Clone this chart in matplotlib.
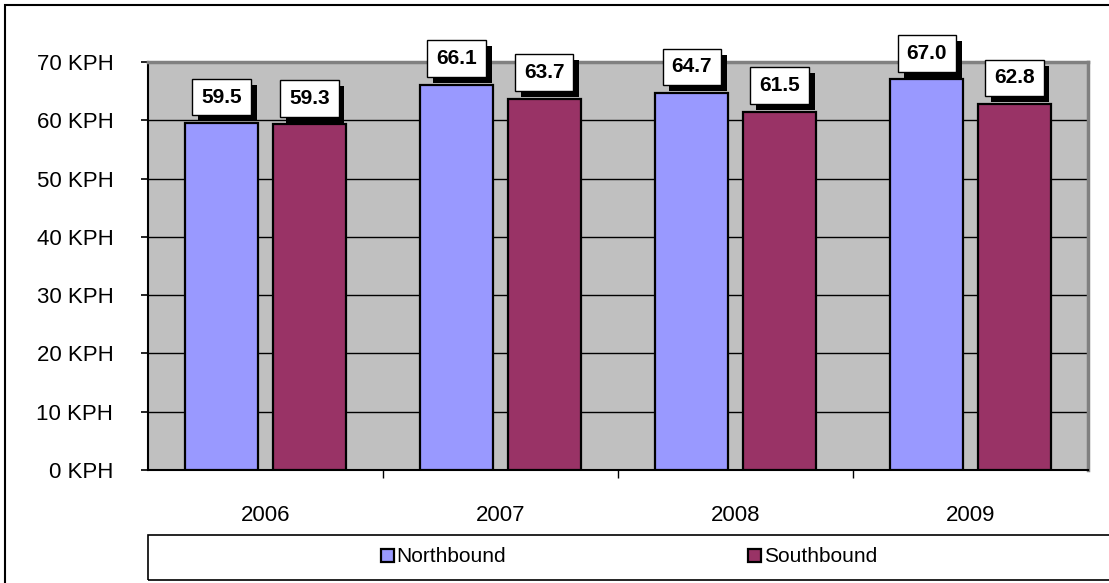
import matplotlib.pyplot as plt
import matplotlib.patheffects as pe
from matplotlib.patches import Rectangle
import numpy as np

plt.rcParams['font.family'] = ['Liberation Sans', 'DejaVu Sans']

years = ['2006', '2007', '2008', '2009']
northbound = [59.5, 66.1, 64.7, 67.0]
southbound = [59.3, 63.7, 61.5, 62.8]
yticks = [0, 10, 20, 30, 40, 50, 60, 70]

W, H = 1109, 583
fig = plt.figure(figsize=(W / 100, H / 100), dpi=100)
ax = fig.add_axes([148 / W, 1 - 470 / H, 940 / W, 408 / H])
ax.set_facecolor('#C0C0C0')

x = np.arange(len(years))
bw = 0.31
off = 0.187
b1 = ax.bar(x - off, northbound, bw, color='#9999FF', edgecolor='black', linewidth=1.6, zorder=3, label='Northbound')
b2 = ax.bar(x + off, southbound, bw, color='#993366', edgecolor='black', linewidth=1.6, zorder=3, label='Southbound')

# value labels in white boxes with a black drop shadow
shadow = [pe.withSimplePatchShadow(offset=(4.3, -4.3), shadow_rgbFace='black', alpha=1)]
for xs, vals in [(x - off, northbound), (x + off, southbound)]:
    for xi, v in zip(xs, vals):
        t = ax.annotate(f'{v:.1f}', (xi, v), xytext=(0, 26), textcoords='offset pixels',
                        ha='center', va='center', fontsize=15, fontweight='bold', color='black',
                        bbox=dict(boxstyle='square,pad=0.42', fc='white', ec='black', lw=1), zorder=5)
        t.get_bbox_patch().set_path_effects(shadow)

ax.set_ylim(0, 70)
ax.set_xlim(-0.5, 3.5)
ax.set_yticks(yticks)
ax.set_yticklabels([f'{t} KPH' for t in yticks])
ax.yaxis.grid(True, color='black', linewidth=1, zorder=1)
ax.set_axisbelow(True)
ax.tick_params(axis='y', direction='out', length=5, width=1.2, pad=20, labelsize=16)

ax.set_xticks(x)
ax.set_xticklabels(years)
ax.tick_params(axis='x', which='major', length=0, pad=25, labelsize=16)
ax.set_xticks([0.5, 1.5, 2.5], minor=True)
ax.tick_params(axis='x', which='minor', direction='out', length=6, width=1)

ax.spines['left'].set_color('black')
ax.spines['left'].set_linewidth(1.5)
ax.spines['bottom'].set_color('black')
ax.spines['bottom'].set_linewidth(1.5)
for s in ['top', 'right']:
    ax.spines[s].set_color('#808080')
    ax.spines[s].set_linewidth(2.5)

# outer frame and legend frame
fig.add_artist(Rectangle((5 / W, -0.1), 1.2, 1.1 - 5 / H, transform=fig.transFigure,
                         fill=False, ec='black', lw=1.5))
fig.add_artist(Rectangle((148 / W, 1 - 580 / H), 1.0, 45 / H, transform=fig.transFigure,
                         fill=False, ec='black', lw=1.2))

fig.legend(handles=[b1, b2], loc='center', bbox_to_anchor=(629 / W, 1 - 557 / H), ncol=2,
           frameon=False, fontsize=15, handlelength=0.6, handleheight=0.6,
           handletextpad=0.15, columnspacing=11.6)

fig.savefig('out.png', dpi=100)
